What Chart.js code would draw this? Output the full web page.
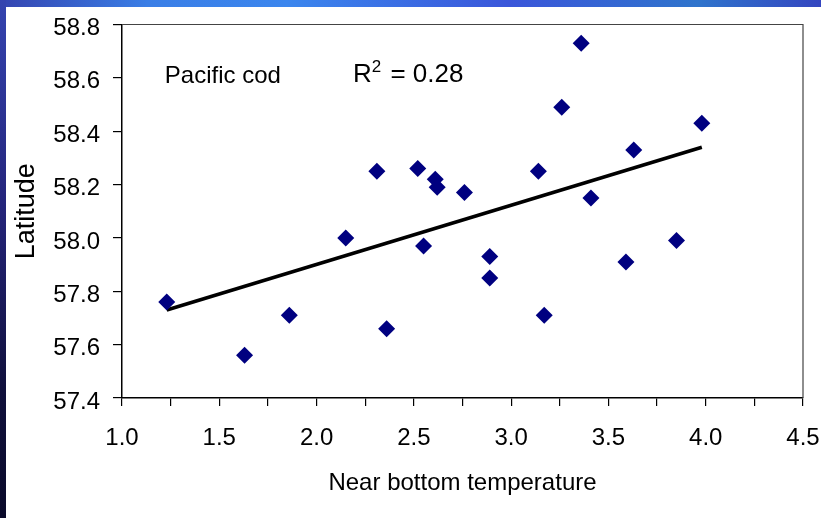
<!DOCTYPE html>
<html>
<head>
<meta charset="utf-8">
<script src="https://cdn.jsdelivr.net/npm/chart.js@4.4.0/dist/chart.umd.min.js"></script>
<style>
  body { margin: 0; background: #fff; }
  #wrap { position: relative; width: 821px; height: 518px; overflow: hidden; background: #fff; }
  #top { position: absolute; left: 0; top: 0; width: 821px; height: 7px;
    background: linear-gradient(90deg, #3444b0 0%, #3a7ee6 18%, #3b86ee 35%, #3a56da 62%, #2f74cc 85%, #3446c0 100%); }
  #left { position: absolute; left: 0; top: 0; width: 6px; height: 518px;
    background: linear-gradient(180deg, #3444b0 0%, #24247a 40%, #10103c 75%, #0a0a2a 100%); }
  canvas { position: absolute; left: 0; top: 0; }
</style>
</head>
<body>
<div id="wrap">
  <canvas id="chart" width="821" height="518"></canvas>
  <div id="top"></div>
  <div id="left"></div>
</div>
<script>
// Pacific cod: near bottom temperature vs latitude
const temps = [1.23, 1.63, 1.86, 2.15, 2.31, 2.36, 2.52, 2.55, 2.61, 2.62, 2.76,
  2.89, 2.89, 3.14, 3.17, 3.26, 3.36, 3.41, 3.59, 3.63, 3.85, 3.98]
const lats = [57.76, 57.56, 57.71, 58.00, 58.25, 57.66, 58.26, 57.97, 58.22, 58.19, 58.17,
  57.93, 57.85, 58.25, 57.71, 58.49, 58.73, 58.15, 57.91, 58.33, 57.99, 58.43]

// fitted trend line end points
const trendX = [1.23, 3.98]
const trendY = [57.73, 58.34]

const speciesLabel = 'Pacific cod'
const r2Value = '0.28'

const FONT = "'Liberation Sans', Arial, sans-serif"
Chart.defaults.font.family = FONT
Chart.defaults.font.size = 24
Chart.defaults.color = '#000'

const framePlugin = {
  id: 'frame',
  beforeDatasetsDraw (chart) {
    const { ctx, chartArea: a } = chart
    ctx.save()
    ctx.strokeStyle = '#444'
    ctx.lineWidth = 1.2
    ctx.beginPath()
    ctx.moveTo(a.left, a.top)
    ctx.lineTo(a.right, a.top)
    ctx.lineTo(a.right, a.bottom)
    ctx.stroke()
    ctx.restore()
  }
}

const notesPlugin = {
  id: 'notes',
  afterDraw (chart) {
    const { ctx, scales } = chart
    const x = scales.x
    const y = scales.y
    ctx.save()
    ctx.fillStyle = '#000'
    ctx.textBaseline = 'alphabetic'
    ctx.font = '24px ' + FONT
    ctx.fillText(speciesLabel, x.getPixelForValue(1.22), y.getPixelForValue(58.58))
    let px = x.getPixelForValue(2.187)
    const py = y.getPixelForValue(58.585)
    ctx.font = '26px ' + FONT
    ctx.fillText('R', px, py)
    px += ctx.measureText('R').width
    ctx.font = '17px ' + FONT
    ctx.fillText('2', px, py - 10)
    px += ctx.measureText('2').width + 2
    ctx.font = '26px ' + FONT
    ctx.fillText(' = ' + r2Value, px, py)
    ctx.restore()
  }
}

new Chart(document.getElementById('chart').getContext('2d'), {
  type: 'scatter',
  data: {
    datasets: [{
      label: 'observations',
      data: temps.map((t, i) => ({ x: t, y: lats[i] })),
      pointStyle: 'rectRot',
      pointRadius: 8.5,
      pointBackgroundColor: '#000080',
      pointBorderColor: '#000080',
      pointBorderWidth: 0,
      order: 1
    }, {
      type: 'line',
      label: 'trend',
      data: trendX.map((t, i) => ({ x: t, y: trendY[i] })),
      borderColor: '#000',
      borderWidth: 3.5,
      pointRadius: 0,
      fill: false,
      order: 2
    }]
  },
  options: {
    responsive: false,
    animation: false,
    layout: {
      padding: { left: 10, top: 24.5, right: 18, bottom: 10 }
    },
    plugins: {
      legend: { display: false },
      tooltip: { enabled: false }
    },
    scales: {
      x: {
        type: 'linear',
        min: 1,
        max: 4.5,
        afterFit (scale) {
          scale.height = 110
          scale.paddingLeft = 0
          scale.paddingRight = 0
        },
        border: { display: true, color: '#000', width: 1.5 },
        grid: { drawOnChartArea: false, drawTicks: true, tickLength: 8, color: '#000', lineWidth: 1.2 },
        ticks: {
          stepSize: 0.25,
          autoSkip: false,
          maxRotation: 0,
          padding: 18,
          callback: v => Math.abs(v * 2 - Math.round(v * 2)) < 1e-6 ? v.toFixed(1) : ''
        },
        title: { display: true, text: 'Near bottom temperature', padding: { top: 0, bottom: 10 } }
      },
      y: {
        type: 'linear',
        min: 57.4,
        max: 58.8,
        afterFit (scale) {
          scale.width = 112
          scale.paddingTop = 0
          scale.paddingBottom = 0
        },
        border: { display: true, color: '#000', width: 1.5 },
        grid: { drawOnChartArea: false, drawTicks: true, tickLength: 9, color: '#000', lineWidth: 1.2 },
        ticks: {
          stepSize: 0.2,
          padding: 13,
          labelOffset: 4,
          callback: v => v.toFixed(1)
        },
        title: { display: true, text: 'Latitude', font: { size: 27 }, padding: { top: 0, bottom: 0 } }
      }
    }
  },
  plugins: [framePlugin, notesPlugin]
})
</script>
</body>
</html>
